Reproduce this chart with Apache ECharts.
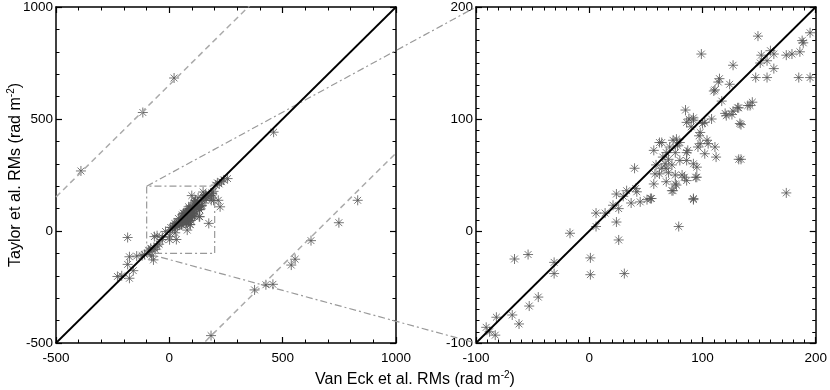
<!DOCTYPE html>
<html>
<head>
<meta charset="utf-8">
<script src="https://cdn.jsdelivr.net/npm/echarts@6/dist/echarts.min.js"></script>
<style>
  html, body { margin: 0; padding: 0; background: #fff; }
  #chart { width: 830px; height: 390px; }
</style>
</head>
<body>
<div id="chart"></div>
<script>
  // RM pairs: [Van Eck, Taylor]
  var vanEckRM = [
    149, 99, 195, 188, 189, 186, 179, 174, 152, 163, 160, 157, 151, 127, 163, 147, 157, 185, 195, 115,
    114, 124, 110, 111, 117, 144, 142, 132, 127, 126, 121, 134, 108, 102, 85, 88, 86, 92, 98, 97,
    90, 96, 104, 111, 112, 102, 132, 74, 77, 80, 71, 68, 76, 80, 62, 57, 86, 86, 59, 64,
    68, 73, 70, 65, 58, 62, 68, 73, 77, 82, 86, 92, 95, 95, 92, 79, 57, 40, 33, 41,
    42, 30, 37, 51, 54, 55, 45, 26, 21, 24, 6, 14, 6, 24, 26, -17, 1, 1, 31, -66,
    -54, -31, -31, -45, -53, -68, -62, -82, -91, -83, -88, 174, 92, 100, 120, 131,
    133, 140, 78, 64, 87, 98, 105, 67, 70, 76, 84, 94, 74, 76, 134, 92,
    21, -117, -390, 460, 831, 748, 625, 555, 538, 457, 426, 376, 184, -184, -176, -184, -176, -229, -210, -159,
    -144, -70, -78, -110, -120, 224, 216, 257, 205, 212, 220, 230, 240
  ];
  var taylorRM = [
    174, 158, 177, 170, 168, 160, 158, 157, 157, 158, 161, 152, 150, 148, 145, 137, 137, 137, 137, 136,
    133, 131, 125, 126, 116, 115, 112, 110, 107, 104, 103, 95, 100, 97, 108, 100, 97, 101, 88, 85,
    93, 75, 81, 75, 66, 69, 64, 81, 82, 79, 75, 70, 70, 63, 79, 72, 70, 63, 59, 56,
    56, 59, 64, 66, 51, 51, 44, 36, 41, 50, 45, 60, 57, 48, 28, 4, 42, 56, 36, 38,
    35, 31, 25, 28, 29, 29, 26, 20, 23, 33, 16, 16, 4, 8, -8, -2, -24, -39, -38, -25,
    -21, -28, -38, -59, -67, -75, -83, -77, -86, -93, -90, 34, 99, 96, 105, 110,
    96, 112, 76, 79, 72, 78, 78, 60, 52, 50, 48, 48, 36, 42, 64, 29,
    683, 529, 268, 441, 137, 37, -43, -126, -152, -238, -240, -263, -467, -29, -115, -149, -211, -203, -200, -177,
    -112, -129, -112, -105, -110, 108, 137, 234, 205, 215, 210, 220, 228
  ];

  var leftRange = [-500, 1000];
  var rightRange = [-100, 200];
  var zoomBox = [-100, 200];     // region magnified on the right
  var ambiguity = 652;           // offset of the dashed n-pi ambiguity lines

  var points = vanEckRM.map(function (x, i) { return [x, taylorRM[i]]; });

  var star = 'path://M0,5L10,5M5,0L5,10M1.6,1.6L8.4,8.4M1.6,8.4L8.4,1.6';
  var font = 'Liberation Sans, Helvetica, Arial, sans-serif';
  var rich = {
    t: { fontSize: 16, fontFamily: font, color: '#000', fontWeight: 'normal' },
    s: { fontSize: 10, fontFamily: font, color: '#000', fontWeight: 'normal', padding: [0, 0, 9, 0] }
  };

  function xAx(grid, range, interval, minor, pos, show) {
    return {
      type: 'value', gridIndex: grid, position: pos, min: range[0], max: range[1], interval: interval,
      axisLine: { show: true, onZero: false, lineStyle: { color: '#000', width: 1.5 } },
      axisTick: { show: true, inside: true, length: 6, lineStyle: { color: '#000', width: 1.2 } },
      minorTick: { show: true, splitNumber: minor, length: 3.5, lineStyle: { color: '#000', width: 1 } },
      axisLabel: {
        show: show, color: '#000', fontSize: 13.5, fontFamily: font, margin: 8,
        showMinLabel: true, showMaxLabel: true,
        formatter: function (v) { return String(v); }
      },
      splitLine: { show: false }
    };
  }
  function yAx(grid, range, interval, minor, pos, show) {
    var a = xAx(grid, range, interval, minor, pos, show);
    a.axisLabel.margin = 3;
    return a;
  }

  var yLeft = yAx(0, leftRange, 500, 5, 'left', true);
  yLeft.name = '{t|Taylor et al. RMs (rad m}{s|-2}{t|)}';
  yLeft.nameLocation = 'middle';
  yLeft.nameGap = 31;
  yLeft.nameMoveOverlap = false;
  yLeft.nameTextStyle = { rich: rich };

  function diag(r) { return [[r[0], r[0]], [r[1], r[1]]]; }
  function shifted(r, c) { return [[r[0], r[0] + c], [r[1], r[1] + c]]; }

  var chart = echarts.init(document.getElementById('chart'), null, { renderer: 'canvas' });

  var starStyle = { color: 'transparent', borderColor: '#555', borderWidth: 1 };

  chart.setOption({
    animation: false,
    backgroundColor: '#fff',
    title: {
      text: '{t|Van Eck et al. RMs (rad m}{s|-2}{t|)}',
      left: 'center', top: 365,
      textStyle: { fontWeight: 'normal', rich: rich }
    },
    grid: [
      { left: 56, top: 6, width: 340, height: 337 },
      { left: 476, top: 6, width: 340, height: 337 }
    ],
    xAxis: [
      xAx(0, leftRange, 500, 5, 'bottom', true),
      xAx(0, leftRange, 500, 5, 'top', false),
      xAx(1, rightRange, 100, 10, 'bottom', true),
      xAx(1, rightRange, 100, 10, 'top', false)
    ],
    yAxis: [
      yLeft,
      yAx(0, leftRange, 500, 5, 'right', false),
      yAx(1, rightRange, 100, 10, 'left', true),
      yAx(1, rightRange, 100, 10, 'right', false)
    ],
    series: [
      {
        type: 'line', xAxisIndex: 0, yAxisIndex: 0, data: shifted(leftRange, ambiguity), symbol: 'none',
        lineStyle: { color: '#aaa', width: 1.5, type: [6, 4] }, clip: true, silent: true
      },
      {
        type: 'line', xAxisIndex: 0, yAxisIndex: 0, data: shifted(leftRange, -ambiguity), symbol: 'none',
        lineStyle: { color: '#aaa', width: 1.5, type: [6, 4] }, clip: true, silent: true
      },
      {
        type: 'line', xAxisIndex: 0, yAxisIndex: 0, symbol: 'none',
        data: [[zoomBox[0], zoomBox[0]], [zoomBox[0], zoomBox[1]], [zoomBox[1], zoomBox[1]], [zoomBox[1], zoomBox[0]], [zoomBox[0], zoomBox[0]]],
        lineStyle: { color: '#999', width: 1.2, type: [7, 3, 2, 3] }, silent: true
      },
      {
        type: 'scatter', xAxisIndex: 0, yAxisIndex: 0, data: points, symbol: star, symbolSize: 10,
        itemStyle: starStyle, clip: true
      },
      {
        type: 'line', xAxisIndex: 0, yAxisIndex: 0, data: diag(leftRange), symbol: 'none',
        lineStyle: { color: '#000', width: 1.8 }, z: 5
      },
      {
        type: 'scatter', xAxisIndex: 2, yAxisIndex: 2, data: points, symbol: star, symbolSize: 10,
        itemStyle: starStyle, clip: true
      },
      {
        type: 'line', xAxisIndex: 2, yAxisIndex: 2, data: diag(rightRange), symbol: 'none',
        lineStyle: { color: '#000', width: 1.8 }, z: 5
      }
    ]
  });

  // dash-dot connectors from the zoom box to the right panel's corners
  var boxTop = chart.convertToPixel({ xAxisIndex: 0, yAxisIndex: 0 }, [zoomBox[0], zoomBox[1]]);
  var boxBot = chart.convertToPixel({ xAxisIndex: 0, yAxisIndex: 0 }, [zoomBox[0], zoomBox[0]]);
  var panTop = chart.convertToPixel({ xAxisIndex: 2, yAxisIndex: 2 }, [rightRange[0], rightRange[1]]);
  var panBot = chart.convertToPixel({ xAxisIndex: 2, yAxisIndex: 2 }, [rightRange[0], rightRange[0]]);
  var connStyle = { stroke: '#999', lineWidth: 1.2, lineDash: [7, 3, 2, 3] };
  chart.setOption({
    graphic: [
      { type: 'line', silent: true, z: 1, shape: { x1: boxTop[0], y1: boxTop[1], x2: panTop[0], y2: panTop[1] }, style: connStyle },
      { type: 'line', silent: true, z: 1, shape: { x1: boxBot[0], y1: boxBot[1], x2: panBot[0], y2: panBot[1] }, style: connStyle }
    ]
  });
</script>
</body>
</html>
